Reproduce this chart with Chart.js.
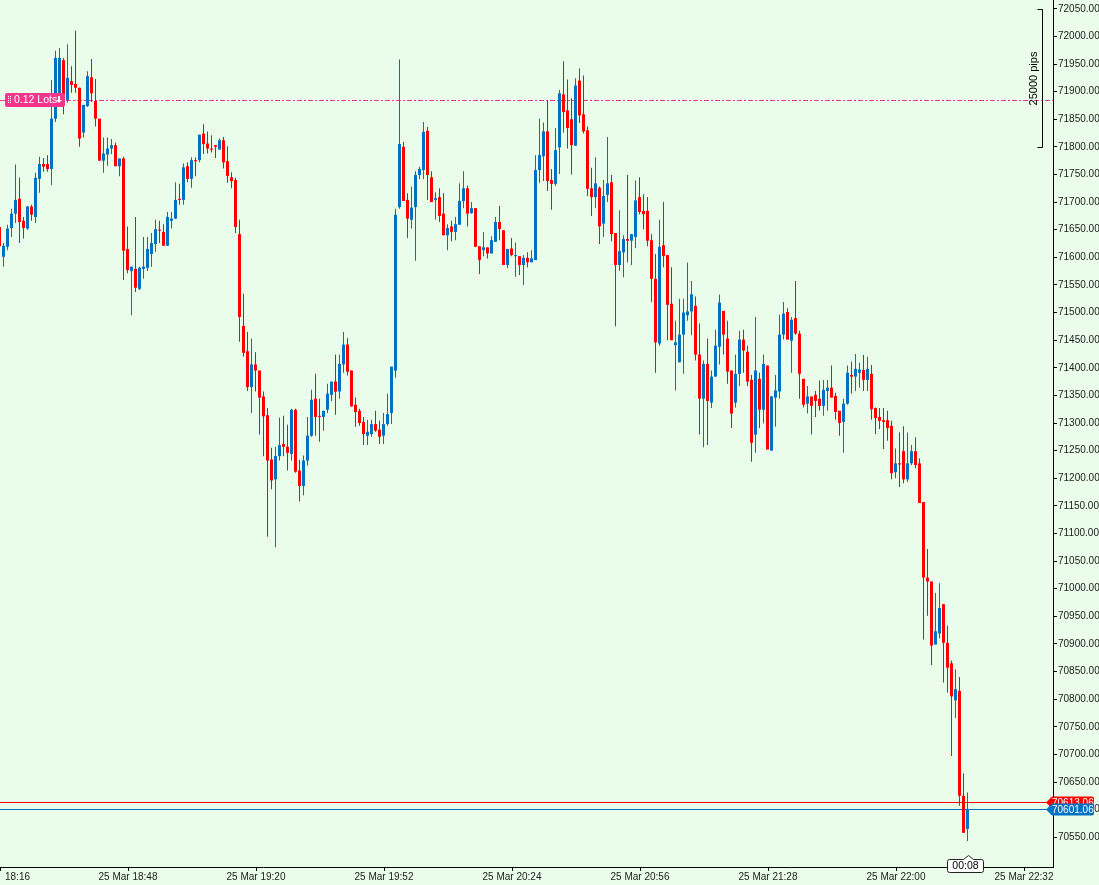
<!DOCTYPE html>
<html>
<head>
<meta charset="utf-8">
<title>1m candles</title>
<script src="https://cdn.jsdelivr.net/npm/chart.js@4.4.1/dist/chart.umd.min.js"></script>
<style>
  html, body { margin: 0; padding: 0; background: #eafdea; }
  canvas { display: block; }
</style>
</head>
<body>
<canvas id="chart" width="1099" height="885"></canvas>
<script>
// ── Data (1 minute candles, 18:16 onwards) ───────────────────────────
const opens = [
  71655, 71601, 71619, 71653, 71679, 71706, 71666, 71652, 71692, 71673,
  71742, 71769, 71769, 71760, 71851, 71885, 71957, 71885, 71919, 71914,
  71907, 71826, 71874, 71926, 71883, 71851, 71775, 71786, 71797, 71803,
  71765, 71779, 71615, 71575, 71579, 71543, 71579, 71581, 71606, 71624,
  71650, 71646, 71621, 71666, 71670, 71706, 71704, 71765, 71742, 71776,
  71776, 71824, 71806, 71797, 71803, 71795, 71812, 71774, 71745, 71740,
  71642, 71476, 71430, 71365, 71406, 71395, 71348, 71314, 71234, 71198,
  71240, 71262, 71257, 71244, 71324, 71214, 71186, 71232, 71277, 71344,
  71313, 71311, 71324, 71351, 71375, 71357, 71406, 71442, 71395, 71333,
  71322, 71302, 71277, 71280, 71298, 71288, 71277, 71298, 71318, 71395,
  71691, 71800, 71704, 71668, 71691, 71749, 71758, 71829, 71745, 71704,
  71709, 71679, 71640, 71656, 71646, 71659, 71702, 71725, 71680, 71689,
  71620, 71613, 71618, 71607, 71628, 71664, 71649, 71586, 71616, 71602,
  71602, 71586, 71599, 71591, 71595, 71758, 71783, 71828, 71740, 71733,
  71799, 71895, 71866, 71850, 71802, 71920, 71859, 71830, 71725, 71709,
  71726, 71661, 71713, 71736, 71644, 71586, 71609, 71633, 71630, 71637,
  71709, 71684, 71684, 71631, 71561, 71444, 71622, 71604, 71516, 71441,
  71410, 71460, 71495, 71502, 71512, 71424, 71344, 71407, 71337, 71384,
  71438, 71503, 71453, 71395, 71337, 71389, 71451, 71429, 71378, 71279,
  71380, 71324, 71404, 71250, 71346, 71357, 71460, 71501, 71449, 71490,
  71462, 71380, 71335, 71348, 71351, 71344, 71331, 71358, 71364, 71349,
  71322, 71302, 71335, 71387, 71384, 71391, 71396, 71378, 71389, 71327,
  71311, 71305, 71305, 71295, 71211, 71227, 71249, 71198, 71227, 71249,
  71227, 71157, 71020, 71013, 70899, 70919, 70972, 70902, 70865, 70798,
  70815, 70625, 70565
];
const highs = [
  71662, 71626, 71659, 71688, 71768, 71744, 71673, 71693, 71695, 71753,
  71782, 71780, 71785, 71921, 71974, 71979, 71961, 71986, 71946, 72010,
  71907, 71876, 71937, 71959, 71923, 71851, 71817, 71817, 71814, 71808,
  71779, 71782, 71656, 71583, 71673, 71583, 71637, 71637, 71644, 71668,
  71666, 71660, 71682, 71682, 71736, 71733, 71770, 71772, 71781, 71781,
  71822, 71841, 71828, 71821, 71803, 71815, 71818, 71801, 71754, 71744,
  71668, 71534, 71465, 71453, 71428, 71395, 71357, 71327, 71255, 71257,
  71310, 71313, 71297, 71326, 71326, 71233, 71241, 71311, 71360, 71389,
  71344, 71322, 71371, 71375, 71424, 71424, 71465, 71454, 71395, 71346,
  71326, 71311, 71306, 71306, 71322, 71304, 71318, 71353, 71402, 71688,
  71958, 71809, 71716, 71728, 71756, 71764, 71845, 71836, 71756, 71718,
  71725, 71716, 71660, 71666, 71673, 71734, 71756, 71730, 71700, 71689,
  71620, 71646, 71618, 71638, 71673, 71693, 71649, 71615, 71635, 71627,
  71602, 71604, 71609, 71613, 71785, 71851, 71844, 71884, 71760, 71834,
  71903, 71955, 71922, 71888, 71924, 71942, 71929, 71837, 71762, 71781,
  71728, 71740, 71818, 71749, 71644, 71685, 71640, 71749, 71642, 71739,
  71745, 71714, 71709, 71642, 71606, 71668, 71700, 71604, 71582, 71485,
  71525, 71525, 71590, 71557, 71529, 71480, 71413, 71453, 71395, 71469,
  71532, 71503, 71485, 71395, 71424, 71467, 71469, 71440, 71387, 71492,
  71391, 71424, 71404, 71349, 71387, 71496, 71519, 71508, 71492, 71557,
  71467, 71380, 71367, 71348, 71358, 71377, 71378, 71378, 71404, 71355,
  71322, 71344, 71404, 71411, 71425, 71409, 71423, 71420, 71405, 71328,
  71327, 71327, 71322, 71304, 71254, 71283, 71294, 71283, 71260, 71274,
  71236, 71157, 71072, 71013, 70992, 71010, 70972, 70933, 70870, 70854,
  70840, 70666, 70631
];
const lows = [
  71610, 71583, 71613, 71637, 71662, 71626, 71634, 71650, 71666, 71662,
  71717, 71755, 71755, 71731, 71845, 71880, 71859, 71880, 71898, 71898,
  71800, 71817, 71872, 71881, 71837, 71775, 71753, 71766, 71787, 71765,
  71747, 71559, 71571, 71495, 71537, 71541, 71561, 71575, 71583, 71610,
  71626, 71621, 71621, 71652, 71670, 71695, 71695, 71736, 71726, 71747,
  71772, 71787, 71788, 71790, 71780, 71795, 71761, 71735, 71725, 71644,
  71447, 71420, 71358, 71318, 71357, 71279, 71240, 71094, 71180, 71075,
  71232, 71240, 71214, 71232, 71210, 71158, 71169, 71223, 71275, 71277,
  71266, 71286, 71318, 71340, 71315, 71344, 71391, 71386, 71330, 71293,
  71295, 71260, 71260, 71275, 71284, 71262, 71262, 71295, 71298, 71382,
  71688, 71702, 71635, 71652, 71594, 71742, 71742, 71704, 71700, 71668,
  71664, 71640, 71613, 71629, 71631, 71659, 71689, 71656, 71679, 71619,
  71570, 71602, 71598, 71607, 71628, 71631, 71586, 71580, 71602, 71565,
  71568, 71550, 71582, 71591, 71595, 71735, 71738, 71720, 71686, 71729,
  71751, 71826, 71797, 71750, 71802, 71843, 71824, 71711, 71675, 71689,
  71624, 71637, 71700, 71629, 71475, 71575, 71564, 71591, 71586, 71617,
  71678, 71651, 71620, 71519, 71391, 71440, 71582, 71450, 71450, 71359,
  71410, 71389, 71485, 71459, 71413, 71279, 71256, 71260, 71327, 71384,
  71406, 71424, 71371, 71291, 71328, 71367, 71391, 71367, 71230, 71246,
  71291, 71299, 71252, 71250, 71293, 71344, 71451, 71451, 71391, 71460,
  71344, 71328, 71317, 71279, 71311, 71322, 71313, 71322, 71346, 71306,
  71277, 71246, 71333, 71353, 71358, 71364, 71358, 71358, 71306, 71280,
  71289, 71253, 71268, 71198, 71200, 71184, 71191, 71193, 71224, 71218,
  71155, 70908, 70951, 70862, 70899, 70910, 70830, 70812, 70697, 70766,
  70607, 70558, 70543
];
const closes = [
  71620, 71621, 71652, 71679, 71704, 71664, 71653, 71692, 71677, 71744,
  71769, 71764, 71760, 71851, 71961, 71961, 71894, 71925, 71912, 71907,
  71815, 71876, 71928, 71897, 71851, 71775, 71788, 71797, 71803, 71765,
  71779, 71612, 71577, 71583, 71545, 71581, 71583, 71615, 71626, 71651,
  71648, 71621, 71673, 71670, 71704, 71704, 71763, 71742, 71776, 71774,
  71822, 71805, 71797, 71795, 71800, 71812, 71772, 71747, 71738, 71655,
  71492, 71427, 71365, 71406, 71395, 71346, 71312, 71232, 71196, 71240,
  71260, 71257, 71246, 71324, 71212, 71186, 71232, 71277, 71342, 71311,
  71311, 71322, 71353, 71375, 71357, 71407, 71442, 71393, 71330, 71320,
  71300, 71280, 71284, 71298, 71286, 71275, 71298, 71316, 71402, 71677,
  71805, 71702, 71670, 71690, 71749, 71760, 71827, 71749, 71700, 71707,
  71675, 71640, 71653, 71646, 71660, 71702, 71725, 71679, 71689, 71619,
  71595, 71618, 71607, 71631, 71664, 71651, 71586, 71615, 71604, 71604,
  71586, 71599, 71591, 71598, 71758, 71785, 71828, 71738, 71733, 71794,
  71897, 71863, 71834, 71803, 71911, 71857, 71828, 71724, 71709, 71734,
  71656, 71711, 71734, 71642, 71586, 71611, 71633, 71630, 71642, 71703,
  71682, 71678, 71630, 71561, 71446, 71619, 71602, 71514, 71450, 71446,
  71460, 71500, 71502, 71533, 71424, 71344, 71407, 71340, 71384, 71440,
  71518, 71460, 71393, 71317, 71389, 71451, 71431, 71375, 71264, 71395,
  71324, 71407, 71252, 71348, 71359, 71460, 71498, 71451, 71487, 71462,
  71389, 71333, 71348, 71331, 71340, 71331, 71360, 71364, 71346, 71320,
  71300, 71335, 71391, 71384, 71398, 71397, 71378, 71398, 71325, 71309,
  71304, 71302, 71291, 71209, 71227, 71225, 71198, 71227, 71249, 71224,
  71155, 71020, 71013, 70897, 70923, 70965, 70902, 70857, 70805, 70818,
  70625, 70558, 70601.06
];

// time axis: minutes after 18:16 and their labels
const timeTickMinutes = [0, 32, 64, 96, 128, 160, 192, 224, 256];
const timeTickLabels = ['18:16', '25 Mar 18:48', '25 Mar 19:20', '25 Mar 19:52', '25 Mar 20:24',
                        '25 Mar 20:56', '25 Mar 21:28', '25 Mar 22:00', '25 Mar 22:32'];

// price axis
const priceTickMin = 70550, priceTickMax = 72050, priceTickStep = 50;

// markers
const askPrice = 70613.06;
const bidPrice = 70601.06;
const orderPrice = 71885;
const orderLabel = '0.12 Lots';
const rangeTop = 72050, rangeBottom = 71800;
const rangeLabel = '25000 pips';
const countdownLabel = '00:08';

// ── Styling ──────────────────────────────────────────────────────────
const BLUE = '#0070c0';
const RED = '#ff0000';
const PINK = '#f5358c';
const AXIS_TEXT = '#1a1a1a';
const FONT_FAMILY = '"Liberation Sans", Arial, sans-serif';

const candleColors = opens.map((o, i) => closes[i] >= o ? BLUE : RED);
const idx = opens.map((_, i) => i);

// 1px horizontal line, drawn as a filled rect so it stays crisp
function hline(ctx, py, x0, x1, color) {
    ctx.fillStyle = color;
    ctx.fillRect(x0, Math.round(py), x1 - x0, 1);
}

function roundRect(ctx, x, y, w, h, r) {
    ctx.beginPath();
    ctx.moveTo(x + r, y);
    ctx.lineTo(x + w - r, y);
    ctx.quadraticCurveTo(x + w, y, x + w, y + r);
    ctx.lineTo(x + w, y + h - r);
    ctx.quadraticCurveTo(x + w, y + h, x + w - r, y + h);
    ctx.lineTo(x + r, y + h);
    ctx.quadraticCurveTo(x, y + h, x, y + h - r);
    ctx.lineTo(x, y + r);
    ctx.quadraticCurveTo(x, y, x + r, y);
    ctx.closePath();
}

function priceTag(ctx, py, color, text, x0, x1) {
    const h = 12, yy = Math.round(py) + 0.5;
    ctx.fillStyle = color;
    ctx.beginPath();
    ctx.moveTo(x0, yy);
    ctx.lineTo(x0 + 6, yy - h / 2);
    ctx.lineTo(x1 - 2, yy - h / 2);
    ctx.quadraticCurveTo(x1, yy - h / 2, x1, yy - h / 2 + 2);
    ctx.lineTo(x1, yy + h / 2 - 2);
    ctx.quadraticCurveTo(x1, yy + h / 2, x1 - 2, yy + h / 2);
    ctx.lineTo(x0 + 6, yy + h / 2);
    ctx.closePath();
    ctx.fill();
    ctx.fillStyle = '#fff';
    ctx.font = '10px ' + FONT_FAMILY;
    ctx.textAlign = 'left';
    ctx.textBaseline = 'middle';
    ctx.fillText(text, x0 + 6, yy + 0.5);
}

// lines behind the candles
const backLines = {
    id: 'backLines',
    beforeDatasetsDraw(chart) {
        const {ctx, chartArea: a, scales: {y}} = chart;
        ctx.save();
        // dash-dot order line
        const oy = Math.round(y.getPixelForValue(orderPrice)) + 0.5;
        ctx.strokeStyle = PINK;
        ctx.lineWidth = 1;
        ctx.setLineDash([5, 2, 2, 2]);
        ctx.beginPath();
        ctx.moveTo(0, oy);
        ctx.lineTo(a.right, oy);
        ctx.stroke();
        ctx.setLineDash([]);
        hline(ctx, y.getPixelForValue(askPrice), 0, a.right - 6, RED);
        hline(ctx, y.getPixelForValue(bidPrice), 0, a.right - 6, BLUE);
        ctx.restore();
    }
};

// labels and widgets on top
const overlay = {
    id: 'overlay',
    afterDraw(chart) {
        const {ctx, chartArea: a, scales: {x, y}} = chart;
        ctx.save();

        // order label on the dashed line
        const oy = Math.round(y.getPixelForValue(orderPrice));
        ctx.fillStyle = PINK;
        roundRect(ctx, 5, oy - 7, 60, 14, 2);
        ctx.fill();
        ctx.fillStyle = '#fff';
        for (let r = 0; r < 4; r++) {
            ctx.fillRect(8, oy - 4 + r * 2, 1, 1);
            ctx.fillRect(10, oy - 4 + r * 2, 1, 1);
        }
        ctx.font = '10.5px ' + FONT_FAMILY;
        ctx.textAlign = 'left';
        ctx.textBaseline = 'middle';
        ctx.fillText(orderLabel, 14, oy + 0.5);
        // small down arrow
        ctx.fillRect(58, oy - 4, 2, 4);
        ctx.beginPath();
        ctx.moveTo(56, oy);
        ctx.lineTo(62, oy);
        ctx.lineTo(59, oy + 3);
        ctx.closePath();
        ctx.fill();

        // range bracket
        const t = Math.round(y.getPixelForValue(rangeTop)) + 0.5;
        const b = Math.round(y.getPixelForValue(rangeBottom)) + 0.5;
        const bx = 1042.5;
        ctx.strokeStyle = '#000';
        ctx.lineWidth = 1;
        ctx.beginPath();
        ctx.moveTo(bx - 5, t); ctx.lineTo(bx, t); ctx.lineTo(bx, b); ctx.lineTo(bx - 5, b);
        ctx.stroke();
        ctx.save();
        ctx.translate(1034, (t + b) / 2);
        ctx.rotate(-Math.PI / 2);
        ctx.fillStyle = '#000';
        ctx.font = '11px ' + FONT_FAMILY;
        ctx.textAlign = 'center';
        ctx.textBaseline = 'middle';
        ctx.fillText(rangeLabel, 0, 0);
        ctx.restore();

        // price tags on the axis
        priceTag(ctx, y.getPixelForValue(askPrice), RED, askPrice.toFixed(2), 1046, 1094);
        priceTag(ctx, y.getPixelForValue(bidPrice), BLUE, bidPrice.toFixed(2), 1046, 1094);

        // time labels
        ctx.fillStyle = AXIS_TEXT;
        ctx.font = '10px ' + FONT_FAMILY;
        ctx.textBaseline = 'middle';
        timeTickMinutes.forEach((m, j) => {
            const px = x.getPixelForValue(m + 0.125);
            if (j === 0) {
                ctx.textAlign = 'left';
                ctx.fillText(timeTickLabels[j], px + 5, a.bottom + 10);
            } else {
                ctx.textAlign = 'center';
                ctx.fillText(timeTickLabels[j], px, a.bottom + 10);
            }
        });

        // countdown bubble under the last candle
        const cx = Math.round(x.getPixelForValue(opens.length - 1)) + 0.5;
        const top = a.bottom - 7.5;
        ctx.fillStyle = '#fff';
        ctx.strokeStyle = '#222';
        ctx.beginPath();
        ctx.moveTo(cx - 21, top + 2);
        ctx.quadraticCurveTo(cx - 21, top, cx - 19, top);
        ctx.lineTo(cx - 5, top);
        ctx.lineTo(cx, top - 4);
        ctx.lineTo(cx + 5, top);
        ctx.lineTo(cx + 13, top);
        ctx.quadraticCurveTo(cx + 15, top, cx + 15, top + 2);
        ctx.lineTo(cx + 15, top + 11);
        ctx.quadraticCurveTo(cx + 15, top + 13, cx + 13, top + 13);
        ctx.lineTo(cx - 19, top + 13);
        ctx.quadraticCurveTo(cx - 21, top + 13, cx - 21, top + 11);
        ctx.closePath();
        ctx.fill();
        ctx.stroke();
        ctx.fillStyle = '#000';
        ctx.font = '10.5px ' + FONT_FAMILY;
        ctx.textAlign = 'center';
        ctx.fillText(countdownLabel, cx - 3, top + 7);

        ctx.restore();
    }
};

new Chart(document.getElementById('chart'), {
    type: 'bar',
    data: {
        datasets: [
            {
                label: 'wick',
                data: idx.map(i => ({x: i, y: [lows[i], highs[i]]})),
                backgroundColor: candleColors,
                barThickness: 1,
                grouped: false,
                inflateAmount: 0,
                borderWidth: 0,
                order: 2,
            },
            {
                label: 'body',
                data: idx.map(i => ({x: i, y: [opens[i], closes[i]]})),
                backgroundColor: candleColors,
                barThickness: 3,
                minBarLength: 1,
                grouped: false,
                inflateAmount: 0,
                borderWidth: 0,
                order: 1,
            }
        ]
    },
    options: {
        responsive: false,
        animation: false,
        devicePixelRatio: 1,
        layout: { padding: 0 },
        plugins: {
            legend: { display: false },
            tooltip: { enabled: false }
        },
        scales: {
            x: {
                type: 'linear',
                min: 0.125,
                max: 263.375,
                offset: false,
                grid: { display: true, offset: false, drawOnChartArea: false, tickLength: 4, color: '#000' },
                border: { display: true, color: '#000' },
                ticks: { display: false },
                afterBuildTicks: s => { s.ticks = timeTickMinutes.map(m => ({ value: m + 0.125 })); },
                afterFit: s => { s.height = 18; s.paddingLeft = 0; s.paddingRight = 0; }
            },
            y: {
                position: 'right',
                min: 70496.1,
                max: 72065.9,
                grid: { display: true, drawOnChartArea: false, tickLength: 4, color: '#000' },
                border: { display: true, color: '#000' },
                ticks: {
                    autoSkip: false,
                    padding: 1,
                    color: AXIS_TEXT,
                    font: { family: FONT_FAMILY, size: 10 },
                    callback: v => v.toFixed(2)
                },
                afterBuildTicks: s => {
                    const t = [];
                    for (let p = priceTickMin; p <= priceTickMax; p += priceTickStep) t.push({ value: p });
                    s.ticks = t;
                },
                afterFit: s => { s.width = 46; s.paddingTop = 0; s.paddingBottom = 0; }
            }
        }
    },
    plugins: [backLines, overlay]
});
</script>
</body>
</html>
